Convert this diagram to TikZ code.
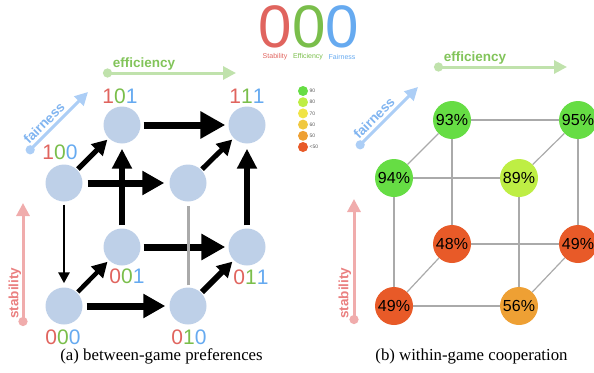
\documentclass[tikz,border=0pt]{standalone}
\usepackage{fontspec}
\setmainfont{Liberation Serif}
\setsansfont{Liberation Sans}
\usetikzlibrary{arrows.meta}

\definecolor{stabred}{RGB}{224,100,94}
\definecolor{effgreen}{RGB}{122,190,75}
\definecolor{fairblue}{RGB}{102,170,240}
\definecolor{stablight}{RGB}{240,172,172}
\definecolor{efflight}{RGB}{192,226,172}
\definecolor{fairlight}{RGB}{172,206,246}
\definecolor{stabtext}{RGB}{234,128,128}
\definecolor{efftext}{RGB}{130,196,90}
\definecolor{fairtext}{RGB}{128,180,240}
\definecolor{nodeblue}{RGB}{190,208,232}
\definecolor{edgegray}{RGB}{170,170,170}
\definecolor{coopA}{RGB}{102,221,68}
\definecolor{coopB}{RGB}{190,238,68}
\definecolor{coopC}{RGB}{240,228,70}
\definecolor{coopD}{RGB}{240,200,64}
\definecolor{coopE}{RGB}{238,160,52}
\definecolor{coopF}{RGB}{232,90,40}

\newcommand{\bits}[3]{{\color{stabred}#1}{\color{effgreen}#2}{\color{fairblue}#3}}

\tikzset{
  state/.style={circle, fill=nodeblue, minimum size=37pt, inner sep=0pt},
  coop/.style={circle, minimum size=38pt, inner sep=0pt, font=\sffamily\fontsize{16}{16}\selectfont},
  bitlabel/.style={inner sep=0pt, font=\sffamily\fontsize{21}{21}\selectfont},
  axislabel/.style={inner sep=0pt, font=\sffamily\bfseries\fontsize{13.5}{13.5}\selectfont},
  axis/.style={line width=3pt, {Circle[length=9pt]}-{Triangle[length=13pt,width=13pt]}},
  harrow/.style={line width=7pt, -{Triangle[length=25pt,width=26pt]}, shorten >=3pt, shorten <=3pt},
  varrow/.style={line width=5.5pt, -{Triangle[length=20pt,width=19pt]}, shorten >=5pt, shorten <=3pt},
  darrow/.style={line width=5pt, -{Triangle[length=15pt,width=16pt]}, shorten >=2pt, shorten <=1pt},
  tarrow/.style={line width=2.8pt, -{Triangle[length=11pt,width=11pt]}, shorten >=4pt, shorten <=3pt},
  legdot/.style={circle, minimum size=10pt, inner sep=0pt},
  leglabel/.style={anchor=west, inner sep=0pt, text=black!65, font=\sffamily\fontsize{5}{5}\selectfont},
  caption/.style={inner sep=0pt, font=\fontsize{16.8}{16.8}\selectfont}
}

\begin{document}
\begin{tikzpicture}[x=1pt,y=-1pt]
\useasboundingbox (0,0) rectangle (594,372);

% heading
\node[inner sep=0pt, font=\sffamily\fontsize{60}{60}\selectfont] (head) at (309,27) {\bits000};
\node[inner sep=0pt, text=stabred, font=\sffamily\fontsize{7}{7}\selectfont] (hstab) at (275,57) {Stability};
\node[inner sep=0pt, text=effgreen, font=\sffamily\fontsize{7}{7}\selectfont] (heff) at (308,57) {Efficiency};
\node[inner sep=0pt, text=fairblue, font=\sffamily\fontsize{7}{7}\selectfont] (hfair) at (342,57) {Fairness};

% legend
\foreach \c/\t [count=\i from 0] in {coopA/90, coopB/80, coopC/70, coopD/60, coopE/50, coopF/{<50}} {
  \node[legdot, fill=\c] (leg\i) at (303,91+11.2*\i) {};
  \node[leglabel] (legt\i) at (309.5,91+11.2*\i) {\t};
}

% (a) axes
\coordinate (effa0) at (103,73);
\coordinate (effa1) at (236,73);
\coordinate (faira0) at (27,153);
\coordinate (faira1) at (88,92);
\coordinate (staba0) at (23,326);
\coordinate (staba1) at (23,203);
\draw[axis, efflight] (effa0) -- (effa1);
\draw[axis, fairlight] (faira0) -- (faira1);
\draw[axis, stablight] (staba0) -- (staba1);
\node[axislabel, text=efftext] (effla) at (144,64) {efficiency};
\node[axislabel, text=fairtext, rotate=45] (fairla) at (44,123) {fairness};
\node[axislabel, text=stabtext, rotate=90] (stabla) at (15,293) {stability};

% (a) preference cube
\node[state] (n100) at (64,183) {};
\node[state] (n101) at (122,125) {};
\node[state] (n111) at (247,125) {};
\node[state] (n110) at (188,183) {};
\node[state] (n001) at (122,247) {};
\node[state] (n011) at (247,247) {};
\node[state] (n000) at (64,306) {};
\node[state] (n010) at (188,306) {};

\node[bitlabel] (l101) at (120,96) {\bits101};
\node[bitlabel] (l111) at (247,96) {\bits111};
\node[bitlabel] (l100) at (60,152) {\bits100};
\node[bitlabel] (l001) at (127,276) {\bits001};
\node[bitlabel] (l011) at (251,277) {\bits011};
\node[bitlabel] (l000) at (63,337) {\bits000};
\node[bitlabel] (l010) at (189,337) {\bits010};

\draw[harrow, shorten <=5pt, shorten >=5pt, -{Triangle[length=22pt,width=23pt]}] (n100) -- (n110);
\draw[varrow] (n001) -- (n101);
\draw[varrow] (n011) -- (n111);
\draw[harrow] (n101) -- (n111);
\draw[harrow, -{Triangle[length=24pt,width=25pt]}] (n001) -- (n011);
\draw[harrow, shorten <=4pt, shorten >=4pt, -{Triangle[length=22pt,width=23pt]}] (n000) -- (n010);
\draw[darrow] (n100) -- (n101);
\draw[darrow] (n110) -- (n111);
\draw[darrow, line width=4.5pt] (n000) -- (n001);
\draw[darrow, line width=6pt] (n010) -- (n011);
\draw[tarrow] (n100) -- (n000);
\draw[edgegray, line width=3pt, shorten <=2pt, shorten >=4pt] (n010) -- (n110);

% (b) axes
\coordinate (effb0) at (434,67);
\coordinate (effb1) at (567,67);
\coordinate (fairb0) at (357,148);
\coordinate (fairb1) at (418,87);
\coordinate (stabb0) at (354,324);
\coordinate (stabb1) at (354,199);
\draw[axis, efflight] (effb0) -- (effb1);
\draw[axis, fairlight] (fairb0) -- (fairb1);
\draw[axis, stablight] (stabb0) -- (stabb1);
\node[axislabel, text=efftext] (efflb) at (475,58) {efficiency};
\node[axislabel, text=fairtext, rotate=45] (fairlb) at (374,118) {fairness};
\node[axislabel, text=stabtext, rotate=90] (stablb) at (345,293) {stability};

% (b) cooperation cube
\node[coop, fill=coopA] (c100) at (394,178) {94\%};
\node[coop, fill=coopA] (c101) at (452,120) {93\%};
\node[coop, fill=coopA] (c111) at (578,120) {95\%};
\node[coop, fill=coopB] (c110) at (519,178) {89\%};
\node[coop, fill=coopF] (c001) at (452,244) {48\%};
\node[coop, fill=coopF] (c011) at (578,244) {49\%};
\node[coop, fill=coopF] (c000) at (394,306) {49\%};
\node[coop, fill=coopE] (c010) at (519,306) {56\%};

\foreach \a/\b in {c100/c101, c101/c111, c111/c110, c110/c100,
                   c000/c001, c001/c011, c011/c010, c010/c000,
                   c100/c000, c101/c001, c111/c011, c110/c010}
  \draw[edgegray, line width=1.2pt] (\a) -- (\b);

% captions
\node[caption] (capa) at (161.5,356) {(a) between-game preferences};
\node[caption] (capb) at (471.5,356) {(b) within-game cooperation};
\end{tikzpicture}
\end{document}
